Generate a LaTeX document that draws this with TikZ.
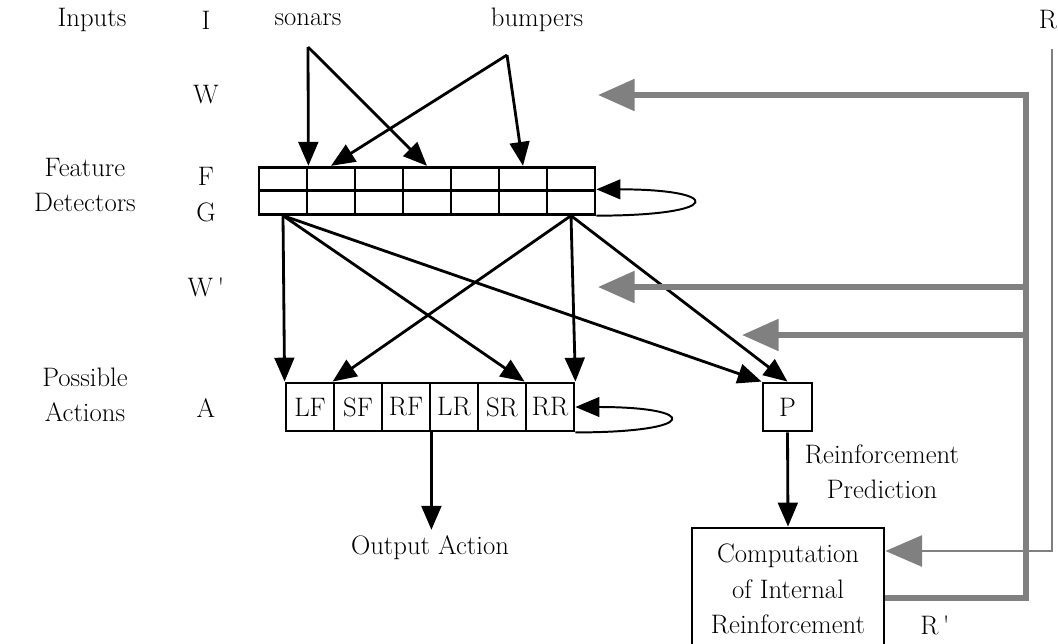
\documentclass[tikz,border=0pt]{standalone}
\usetikzlibrary{arrows.meta}
\begin{document}
\begin{tikzpicture}[x=0.025cm, y=-0.025cm, line width=2pt,
    >={Triangle[length=17pt,width=14pt]},
    every node/.style={font=\fontsize{19}{25}\selectfont},
    cell/.style={draw, minimum width=1.2cm, minimum height=0.5875cm, inner sep=0pt},
    act/.style={draw, minimum width=1.2cm, minimum height=1.2cm, inner sep=0pt},
    gline/.style={draw=gray, line width=3.8pt, -{Triangle[length=26pt,width=22pt]}},
    gthin/.style={draw=gray, line width=1.9pt, -{Triangle[length=26pt,width=22pt]}}]
    \useasboundingbox (0,0) rectangle (1058,644);
    % labels on the left and the top
    \node (inputs) at (92,20) {Inputs};
    \node (I) at (206,20) {I};
    \node (sonars) at (308,20) {sonars};
    \node (bumpers) at (537,20) {bumpers};
    \node (R) at (1048,20) {R};
    \node (W) at (206,95) {W};
    \node[align=center] (feat) at (85,185) {Feature\\Detectors};
    \node (F) at (206,176) {F};
    \node (G) at (206,212) {G};
    \node (Wp) at (206,287) {W\,\textquotesingle};
    \node[align=center] (poss) at (85,395) {Possible\\Actions};
    \node (A) at (206,408) {A};
    % feature detectors and actions
    \foreach \i in {1,...,7} {
        \node[cell] (f\i) at ({283+48*(\i-1)}, 179) {};
        \node[cell] (g\i) at ({283+48*(\i-1)}, 202.5) {};
    }
    \foreach \a [count=\i] in {LF,SF,RF,LR,SR,RR}
        \node[act] (a\i) at ({310+48*(\i-1)}, 407) {\a};
    \node[act, minimum width=1.225cm] (P) at (787.5,407) {P};
    \node[draw, align=center, minimum width=4.8cm, minimum height=3.05cm] (comp) at (788,589)
        {Computation\\of Internal\\Reinforcement};
    \node (out) at (430,548) {Output Action};
    \node[align=center] (pred) at (882,472) {Reinforcement\\Prediction};
    \node (Rp) at (935,625) {R\,\textquotesingle};
    \coordinate (son) at (308,47);
    \coordinate (bum) at (507,55);
    % inputs to features
    \draw[->] (son) -- (f1.north east);
    \draw[->] (son) -- (f4.north);
    \draw[->] (bum) -- (f2.north);
    \draw[->] (bum) -- (f6.north);
    % features to actions and prediction
    \draw[->] (g1.south) -- (a1.north west);
    \draw[->] (g1.south) -- (a6.north west);
    \draw[->] (g1.south) -- (P.north west);
    \draw[->] (g7.south) -- (a2.north west);
    \draw[->] (g7.south) -- (a6.north east);
    \draw[->] (g7.south) -- (P.north);
    \draw[->, line width=1.4pt] (g7.south east) .. controls +(128,0) and +(128,0) .. (g7.north east);
    \draw[->, line width=1.4pt] (a6.south east) .. controls +(125,0) and +(125,0) .. (a6.east);
    \draw[->] (a3.south east) -- (a3.south east |- out.north);
    \draw[->] (P.south) -- (comp.north);
    % reinforcement feedback
    \coordinate (bus) at (1026,598);
    \coordinate (wtip) at (598,95);
    \coordinate (wptip) at (598,287);
    \coordinate (ptip) at (742,335);
    \coordinate (rin) at (1052,551);
    \draw[gline] (comp.east |- bus) -- (bus) -- (bus |- wtip) -- (wtip);
    \draw[gline] (bus |- wptip) -- (wptip);
    \draw[gline] (bus |- ptip) -- (ptip);
    \draw[gthin] (R.south -| rin) ++(0,14) -- (rin) -- (comp.east |- rin);
\end{tikzpicture}
\end{document}
